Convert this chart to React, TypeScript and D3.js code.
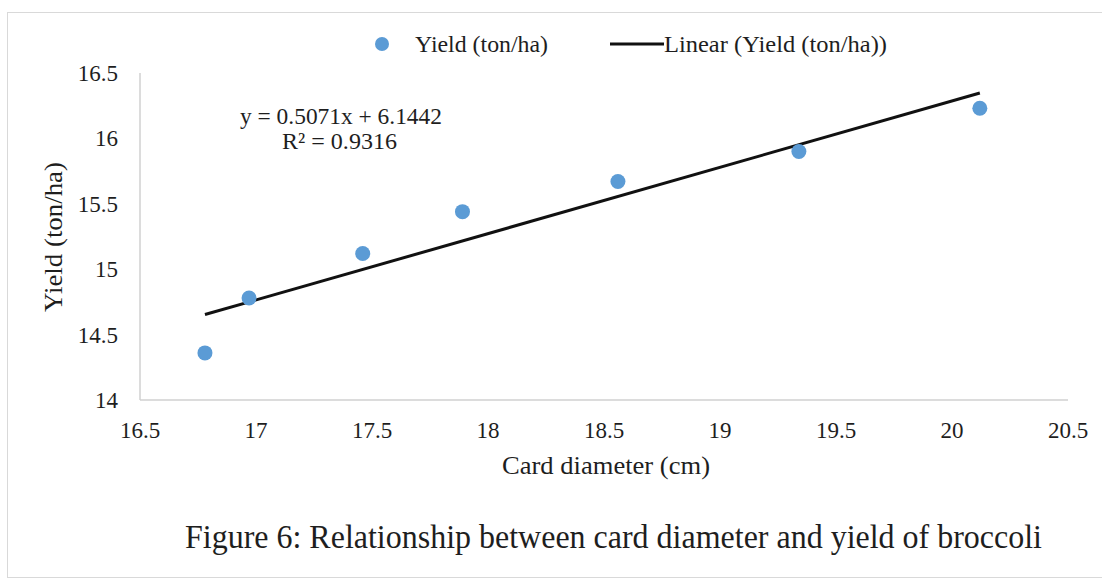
import React from "react";
import * as d3 from "d3";

const diameter = [16.78, 16.97, 17.46, 17.89, 18.56, 19.34, 20.12];
const yieldVals = [14.36, 14.78, 15.12, 15.44, 15.67, 15.9, 16.23];
const xTicks = [16.5, 17, 17.5, 18, 18.5, 19, 19.5, 20, 20.5];
const yTicks = [14, 14.5, 15, 15.5, 16, 16.5];
const slope = 0.5071;
const intercept = 6.1442;

const W = 1102;
const H = 581;
const font = "Liberation Serif, Times New Roman, serif";
const ink = "#1e1e1e";

const App = () => {
  const x = d3.scaleLinear().domain([16.5, 20.5]).range([140, 1068]);
  const y = d3.scaleLinear().domain([14, 16.5]).range([400, 73]);

  const xMin = d3.min(diameter) as number;
  const xMax = d3.max(diameter) as number;
  const trend = d3
    .line<number>()
    .x(d => x(d))
    .y(d => y(slope * d + intercept));

  // fixed-width text, squeezed like the scanned figure
  const fit = (w: number) => ({ textLength: w, lengthAdjust: "spacingAndGlyphs" });

  return (
    <svg
      width={W}
      height={H}
      style={{ position: "absolute", left: 0, top: 0, background: "#fff", fontFamily: font }}
    >
      <rect x={7.5} y={12.5} width={W} height={565} fill="#fff" stroke="#d9d9d9" />

      {/* legend */}
      <circle cx={382} cy={44} r={7} fill="#5b9bd5" />
      <text x={415} y={52} fontSize={23} fill={ink} {...fit(133)}>Yield (ton/ha)</text>
      <line x1={610} x2={664} y1={44} y2={44} stroke="#111" strokeWidth={3} />
      <text x={664} y={52} fontSize={23} fill={ink} {...fit(223)}>
        Linear (Yield (ton/ha))
      </text>

      {/* axes */}
      <line x1={140} x2={140} y1={y(16.5)} y2={y(14)} stroke="#d0d0d0" strokeWidth={1.5} />
      <line x1={140} x2={x(20.5)} y1={y(14)} y2={y(14)} stroke="#d0d0d0" strokeWidth={1.5} />

      {yTicks.map(t => (
        <text key={t} x={118} y={y(t)} dy="0.35em" textAnchor="end" fontSize={23} fill={ink} fontFamily={font}>
          {t}
        </text>
      ))}
      {xTicks.map(t => (
        <text key={t} x={x(t)} y={438} textAnchor="middle" fontSize={23} fill={ink} fontFamily={font}>
          {t}
        </text>
      ))}

      {/* trendline */}
      <path d={trend([xMin, xMax]) || ""} fill="none" stroke="#111" strokeWidth={3} />

      {diameter.map((d, i) => (
        <circle key={i} cx={x(d)} cy={y(yieldVals[i])} r={7.5} fill="#5b9bd5" />
      ))}

      {/* equation */}
      <text x={240} y={124} fontSize={23} fill={ink} {...fit(202)}>
        y = 0.5071x + 6.1442
      </text>
      <text x={282} y={149} fontSize={23} fill={ink} {...fit(115)}>
        R² = 0.9316
      </text>

      {/* axis titles */}
      <text
        transform="translate(62,237) rotate(-90)"
        textAnchor="middle"
        fontSize={25}
        fill={ink}
        {...fit(150)}
      >
        Yield (ton/ha)
      </text>
      <text x={606} y={474} textAnchor="middle" fontSize={25} fill={ink} {...fit(208)}>
        Card diameter (cm)
      </text>

      {/* caption */}
      <text x={185} y={548} fontSize={33} fill={ink} {...fit(857)}>
        Figure 6: Relationship between card diameter and yield of broccoli
      </text>
    </svg>
  );
};

export default App;
